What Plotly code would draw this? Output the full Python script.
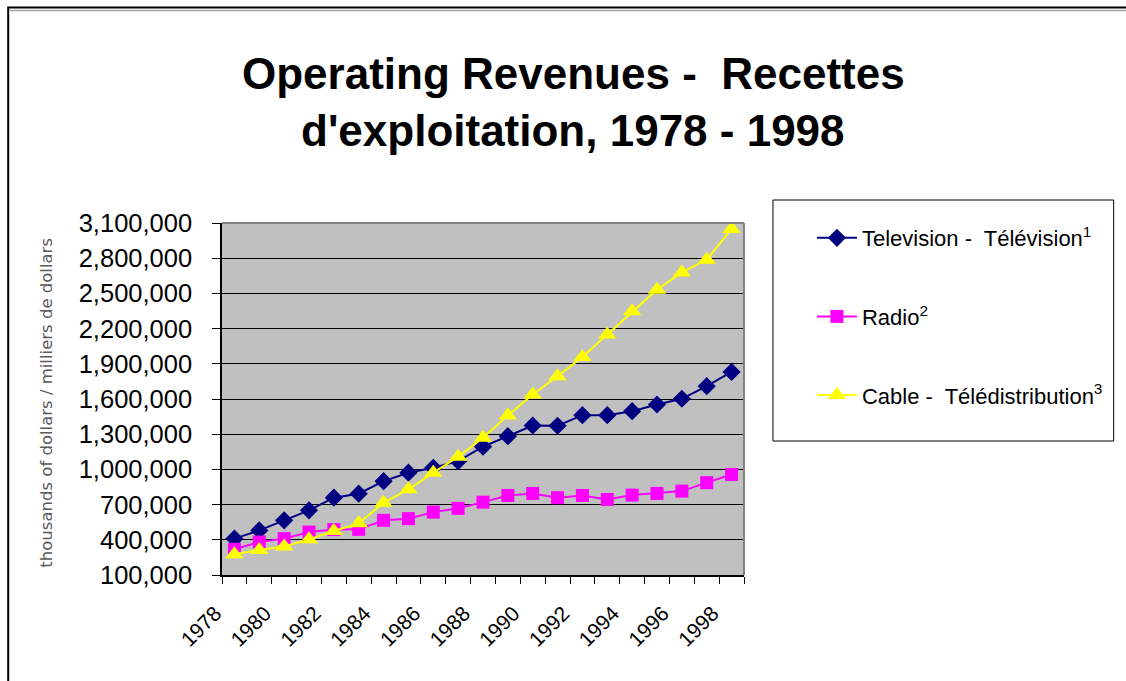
import plotly.graph_objects as go

years = list(range(1978, 1999))
television = [410000, 480000, 566000, 651000, 759000, 793000, 900000, 972000, 1014000, 1070000,
              1193000, 1283000, 1374000, 1372000, 1462000, 1462000, 1496000, 1553000, 1602000,
              1709000, 1831000]
radio = [319000, 381000, 410000, 466000, 487000, 489000, 566000, 580000, 636000, 668000,
         721000, 778000, 795000, 759000, 778000, 744000, 781000, 795000, 815000, 887000, 957000]
cable = [276000, 313000, 342000, 404000, 475000, 540000, 716000, 830000, 972000, 1108000,
         1270000, 1460000, 1638000, 1794000, 1959000, 2149000, 2347000, 2532000, 2679000,
         2787000, 3049000]
tick_years = list(range(1978, 1999, 2))
tick_labels = [str(y) for y in tick_years]

series_names = ["Television -  Télévision<sup>1</sup>", "Radio<sup>2</sup>",
                "Cable -  Télédistribution<sup>3</sup>"]

# pixel geometry helpers
Wfig, Hfig = 1126, 681
L, R, T, B = 221.5, 744.0, 223.0, 575.0
PW, PH = R - L, B - T


def px(x):
    return (x - L) / PW


def py(y):
    return (B - y) / PH


FONT = "Liberation Sans, Arial, sans-serif"

fig = go.Figure()
fig.add_trace(go.Scatter(x=years, y=television, name=series_names[0], mode="lines+markers",
                         line=dict(color="#000080", width=2),
                         marker=dict(symbol="diamond", size=14, color="#000080"),
                         legendgroup="a"))
fig.add_trace(go.Scatter(x=years, y=radio, name=series_names[1], mode="lines+markers",
                         line=dict(color="#FF00FF", width=2),
                         marker=dict(symbol="square", size=13, color="#FF00FF"),
                         legendgroup="b"))
fig.add_trace(go.Scatter(x=years, y=cable, name=series_names[2], mode="lines+markers",
                         line=dict(color="#FFFF00", width=2),
                         marker=dict(symbol="triangle-up", size=16, color="#FFFF00"),
                         legendgroup="c"))

fig.update_layout(
    width=Wfig, height=Hfig,
    margin=dict(l=L, r=Wfig - R, t=T, b=Hfig - B, pad=0),
    paper_bgcolor="white", plot_bgcolor="#C0C0C0",
    font=dict(family=FONT, color="black"),
    showlegend=True,
    legend=dict(x=px(812), y=py(217), xanchor="left", yanchor="top",
                font=dict(size=22, family=FONT), bgcolor="rgba(0,0,0,0)",
                borderwidth=0, tracegroupgap=47, traceorder="grouped", itemwidth=40),
)

fig.update_xaxes(range=[1977.5, 1998.5], tickmode="array", tickvals=tick_years, ticktext=tick_labels,
                 ticks="", tickangle=-45, tickfont=dict(size=21, family=FONT),
                 showgrid=False, zeroline=False, showline=True, linecolor="black", linewidth=1.5,
                 minor=dict(ticks="outside", tick0=1977.5, dtick=1, ticklen=7, tickcolor="black",
                            tickwidth=1, showgrid=False),
                 ticklabelstandoff=16, ticklabelshift=-19)
fig.update_yaxes(range=[100000, 3100000], tick0=100000, dtick=300000, tickformat=",d",
                 ticks="outside", ticklen=8, tickcolor="black", tickwidth=1,
                 tickfont=dict(size=25.5, family=FONT),
                 showgrid=True, gridcolor="black", gridwidth=1, zeroline=False,
                 showline=True, linecolor="black", linewidth=1.5, ticklabelstandoff=15)

shapes = []
# grey top/right border of the plot area
shapes.append(dict(type="line", xref="paper", yref="paper", x0=0, x1=1, y0=1, y1=1,
                   line=dict(color="#808080", width=2)))
shapes.append(dict(type="line", xref="paper", yref="paper", x0=1, x1=1, y0=0, y1=1,
                   line=dict(color="#808080", width=2)))
# legend box
shapes.append(dict(type="rect", xref="paper", yref="paper", x0=px(773), x1=px(1114),
                   y0=py(441), y1=py(200), line=dict(color="black", width=1),
                   fillcolor="white", layer="below"))
# chart area frame
shapes.append(dict(type="rect", xref="paper", yref="paper", x0=px(7.5), x1=px(1140),
                   y0=py(700), y1=py(7.5), line=dict(color="black", width=2)))
shapes.append(dict(type="line", xref="paper", yref="paper", x0=px(9), x1=px(1140),
                   y0=py(10.5), y1=py(10.5), line=dict(color="#A0A0A0", width=1.5)))
fig.update_layout(shapes=shapes)

annotations = [
    dict(text="<b>Operating Revenues -  Recettes</b>", x=px(573), y=py(73), xref="paper",
         yref="paper", showarrow=False, xanchor="center", yanchor="middle",
         font=dict(size=44, family=FONT, color="black")),
    dict(text="<b>d'exploitation, 1978 - 1998</b>", x=px(573), y=py(130), xref="paper",
         yref="paper", showarrow=False, xanchor="center", yanchor="middle",
         font=dict(size=44, family=FONT, color="black")),
    dict(text="thousands of dollars / milliers de dollars", x=px(45), y=py(403), xref="paper",
         yref="paper", showarrow=False, textangle=-90, xanchor="center", yanchor="middle",
         font=dict(size=16.5, family="DejaVu Sans, sans-serif", color="#5a5a5a")),
]
fig.update_layout(annotations=annotations)

fig.write_html("out.html", config={"displayModeBar": False},
               post_script="document.body.style.margin='0';")
